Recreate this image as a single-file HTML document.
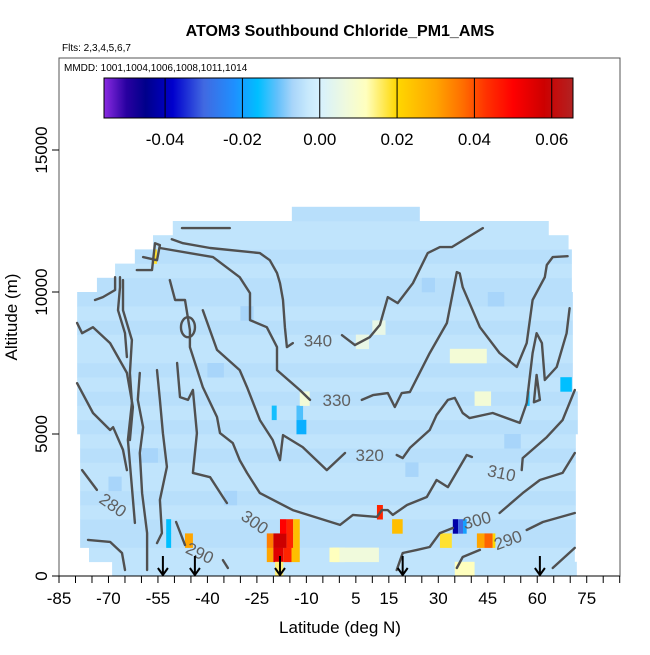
<!DOCTYPE html>
<html><head><meta charset="utf-8"><style>
html,body{margin:0;padding:0;background:#fff}
svg text{font-family:"Liberation Sans",sans-serif}
</style></head><body>
<svg id="chart" width="650" height="650" viewBox="0 0 650 650" xmlns="http://www.w3.org/2000/svg">
<defs>
<linearGradient id="cbgrad" x1="0" x2="1" y1="0" y2="0"></linearGradient>
<clipPath id="plotclip"><rect x="59" y="58" width="561" height="518"/></clipPath>
</defs>
<text x="340" y="36" text-anchor="middle" font-size="16" font-weight="bold">ATOM3 Southbound Chloride_PM1_AMS</text>
<text x="62" y="51" font-size="10">Flts: 2,3,4,5,6,7</text>
<g id="heat" clip-path="url(#plotclip)"></g>
<g id="contours" clip-path="url(#plotclip)"></g>
<g id="clabels"></g>
<g id="arrows"></g>
<rect x="59" y="58" width="561" height="518" fill="none" stroke="#555" stroke-width="1"/>
<text x="64" y="71" font-size="10">MMDD: 1001,1004,1006,1008,1011,1014</text>
<g id="colorbar"></g>
<g id="xaxis"></g>
<g id="yaxis"></g>
<text x="340" y="633" text-anchor="middle" font-size="17">Latitude (deg N)</text>
<text transform="translate(17,317) rotate(-90)" text-anchor="middle" font-size="17">Altitude (m)</text>
</svg>
<script>
// ---- data ----
const xTicks = [-85,-80,-75,-70,-65,-60,-55,-50,-45,-40,-35,-30,-25,-20,-15,-10,-5,0,5,10,15,20,25,30,35,40,45,50,55,60,65,70,75,80,85];
const xTickLabels = [-85,-70,-55,-40,-25,-10,5,15,30,45,60,75];
const yTickLabels = [0,5000,10000,15000];
const cbTicks = [-0.04,-0.02,0.00,0.02,0.04,0.06];
const rowAlt = 500;
const rowLeft  = [-68.9,-75.9,-78.6,-78.6,-78.6,-78.6,-78.6,-78.6,-78.6,-78.6,-79.5,-79.5,-79.5,-79.5,-79.5,-79.5,-79.5,-79.5,-79.5,-79.5,-73.5,-68.0,-62.0,-56.5,-50.5,-14.4];
const rowRight = [72.0,71.4,71.7,71.7,71.7,71.7,71.7,71.7,71.7,71.7,72.3,72.3,72.3,70.8,70.8,70.8,70.8,70.8,70.8,70.8,70.5,70.5,70.5,69.5,63.5,24.4];
const rowBase  = [-0.004,-0.004,-0.005,-0.005,-0.004,-0.005,-0.004,-0.004,-0.005,-0.004,-0.005,-0.004,-0.005,-0.004,-0.005,-0.004,-0.004,-0.005,-0.004,-0.005,-0.005,-0.004,-0.005,-0.004,-0.004,-0.005];
// anomalies: [latStart, latEnd, row, value]
const anomalyLat0 = [-22,-20,-17,-14.5,-22,-20,-16,-14,-18,-16,-14,-19.5,-46.8,-52.5,-52.5,34.4,36,37.5,41.7,44,46.5,30.5,16,11.4,35,-2,0,-3,-13,-13,-20.5,67,56.8,-56.5,33.5,41,-12,-60,-40,5,20,50,-70,-30,10,45,-35,25];
const anomalyLat1 = [-20,-17,-14.5,-12,-20,-16,-14,-12,-16,-14,-12,-17,-44.4,-51,-51,36,37.5,38.6,44,46.5,47.3,34.1,19.2,13.2,41,1.7,12,0,-10,-11,-19,70.5,57.7,-55.3,44.7,46,-9,-55,-35,9,24,55,-66,-26,14,50,-31,29];
const anomalyRow  = [1,1,1,1,2,2,2,2,3,3,3,0,2,2,3,3,3,3,2,2,2,2,3,4,0,1,1,1,10,11,11,13,12,22,15,12,12,8,14,16,7,9,6,18,17,19,5,20];
const anomalyVal  = [0.03,0.055,0.045,0.025,0.035,0.058,0.045,0.025,0.05,0.045,0.025,0.015,0.03,-0.016,-0.016,-0.042,-0.03,-0.02,0.03,0.038,0.02,0.018,0.025,0.045,0.012,0.012,0.007,0.012,-0.018,-0.012,-0.015,-0.016,-0.015,0.018,0.008,0.008,0.008,-0.007,-0.007,0.005,-0.007,-0.007,-0.007,-0.007,0.005,-0.007,-0.007,-0.007];
// theta contours [lat, alt]
const contour340a = [[-47.7,12250],[-33.2,12250]];
const contour340 = [[-50.8,11860],[-47.4,11720],[-39.2,11550],[-24.1,11370],[-21.1,11120],[-18.9,10670],[-18.0,10310],[-17.1,9720],[-16.5,8760],[-15.9,8060],[-14.1,8200]];
const contour340b = [[0.8,8480],[4.7,8130],[9.2,8410],[12.3,8840],[14.7,9820],[17.7,9610],[22.3,10310],[26.8,11370],[30.5,11580],[34.1,11580],[43.5,12250]];
const contour330 = [[-54.4,11550],[-38.3,11230],[-30.2,10520],[-27.1,9960],[-27.1,9010],[-22.0,8760],[-18.9,8060],[-18.9,7250],[-12.0,6550],[-8.9,6200]];
const contour330b = [[6.8,6200],[10.2,6370],[14.7,6440],[16.8,5950],[18.9,6440],[21.4,6480],[27.4,7850],[32.6,8910],[35.6,10700],[36.5,10660],[37.4,10170],[42.6,8760],[48.6,7850],[53.8,7360],[56.8,8200],[58.6,9720],[62.3,10520],[62.9,10950],[64.7,11230],[69.2,11260]];
const contour320 = [[-41.4,9360],[-37.1,7960],[-30.2,7250],[-28.0,6650],[-24.1,5490],[-20.2,4790],[-18.0,4080],[-17.1,4960],[-11.1,4540],[-3.8,3730],[1.7,4330]];
const contour320b = [[17.4,4260],[19.2,4150],[21.4,4510],[27.4,5140],[29.5,5670],[32.9,6200],[35.0,6270],[37.4,5740],[39.5,5560],[46.5,5740],[54.7,5390],[56.8,6090],[58.6,7850],[59.8,8550],[61.4,8200],[62.3,6900],[65.9,7360],[68.9,8550],[69.8,9430]];
const contourDrop = [[59.8,7080],[60.8,6200],[59.0,6120],[59.8,7080]];
const contour310 = [[-51.4,10420],[-49.8,9720],[-46.8,9720],[-45.3,8660],[-45.3,8060],[-41.4,6650],[-37.1,5600],[-36.2,5030],[-32.3,4680],[-30.2,4080],[-28.0,3630],[-24.1,2920],[-14.1,2320],[0.2,1800],[4.1,2150],[11.4,2080],[12.9,2320],[14.7,2320],[16.2,2150],[20.5,2500],[26.5,2780],[29.5,3380],[32.9,3130],[38.6,4260],[40.2,4190]];
const contour310b = [[55.3,3730],[55.6,4150],[62.9,4890],[67.7,5490],[71.4,6550]];
const contour300a = [[-79.5,6790],[-74.7,5740],[-69.5,5140],[-68.6,5240],[-65.6,4440],[-64.4,3730]];
const contour300 = [[-49.2,7500],[-48.3,6300],[-45.9,6200],[-44.4,6550],[-43.2,5030],[-44.4,3630],[-39.2,3480],[-35.3,2780],[-34.1,2570]];
const contour300b = [[17.4,210],[19.2,810],[23.5,920],[27.4,1020],[30.5,1510],[34.4,1690]];
const contour300c = [[48.6,2220],[55.6,2920],[60.8,3380],[67.7,3630],[71.4,4330]];
const contour290a = [[35.6,280],[37.4,670],[42.6,920]];
const contour290b = [[56.8,1620],[61.7,1900],[71.4,2220]];
const contour290c = [[64.7,280],[71.4,990]];
const contour290d = [[-76.2,1270],[-69.5,1200],[-65.9,810],[-65.0,210]];
const contour290e = [[-35.3,560],[-33.8,280]];
const contour290f = [[-49.5,1900],[-46.8,1090]];
const contour280 = [[-78.0,3730],[-73.5,3030]];
const squig1 = [[-66.5,10520],[-66.5,10170],[-67.1,9360],[-65.0,8550],[-64.4,7710]];
const squig2 = [[-65.6,10420],[-65.6,9360],[-62.9,8310],[-63.5,7150],[-62.9,6090],[-64.1,4790],[-62.9,3130],[-62.0,1870]];
const squig3 = [[-60.5,7150],[-61.1,6200],[-59.5,5240],[-60.5,4330],[-59.8,2920],[-58.3,1510],[-58.3,210]];
const squig5 = [[-55.3,7250],[-54.4,6200],[-53.5,5030],[-52.3,3840],[-54.4,2680],[-53.8,1510],[-55.3,1160]];
const squigSide = [[-79.5,8910],[-78.0,8550],[-74.7,8760],[-69.5,8200],[-64.4,7150],[-62.6,5950],[-63.5,4790]];
const squigTop = [[-74.1,9720],[-71.7,9820],[-68.0,10070],[-68.0,10520]];
const squig9 = [[-59.5,11230],[-55.3,11120],[-54.4,11650],[-55.9,11720],[-56.8,10770],[-61.4,10770]];
const contourLines = [contour340a,contour340,contour340b,contour330,contour330b,contour320,contour320b,contourDrop,contour310,contour310b,contour300a,contour300,contour300b,contour300c,contour290a,contour290b,contour290c,contour290d,contour290e,contour290f,contour280,squig1,squig2,squig3,squig5,squigSide,squigTop,squig9];
const labelText = ["340","330","320","310","300","300","290","290","280"];
const labelLat  = [-6.5,-0.8,9.2,49.2,-25.6,41.7,-42.3,51.1,-68.6];
const labelAlt  = [8300,6200,4260,3630,1900,1970,810,1270,2500];
const labelRot  = [0,0,0,12,35,-15,25,-20,35];
const arrowLat = [-53.5,-43.8,-18.0,19.2,60.8];

// ---- scales ----
const X0=59, X1=619.7, LAT0=-85, LAT1=85;
const Y0=576, PXM=0.0284;
const xs = v => X0 + (v-LAT0)/(LAT1-LAT0)*(X1-X0);
const ys = a => Y0 - a*PXM;
const cbX0=104, cbX1=573, cbV0=-0.0558, cbV1=0.0655;
const cbx = v => cbX0 + (v-cbV0)/(cbV1-cbV0)*(cbX1-cbX0);

const stops = [[-0.0558,[138,43,226]],[-0.05,[40,0,160]],[-0.045,[0,0,139]],[-0.038,[0,0,205]],[-0.03,[65,105,225]],[-0.022,[30,144,255]],[-0.016,[0,191,255]],[-0.011,[98,192,251]],[-0.007,[168,213,250]],[-0.003,[200,233,252]],[0,[214,241,255]],[0.007,[240,250,220]],[0.012,[255,255,190]],[0.02,[255,215,0]],[0.03,[255,165,0]],[0.037,[255,110,0]],[0.043,[255,50,0]],[0.05,[255,0,0]],[0.058,[205,0,0]],[0.0655,[178,34,34]]];
function col(v){
  if(v<=stops[0][0]) return 'rgb('+stops[0][1]+')';
  for(let i=1;i<stops.length;i++){
    if(v<=stops[i][0]){
      const a=stops[i-1],b=stops[i],t=(v-a[0])/(b[0]-a[0]);
      const c=a[1].map((x,k)=>Math.round(x+(b[1][k]-x)*t));
      return 'rgb('+c.join(',')+')';
    }
  }
  return 'rgb('+stops[stops.length-1][1]+')';
}
const NS='http://www.w3.org/2000/svg';
function mk(tag,attrs,parent){const e=document.createElementNS(NS,tag);for(const k in attrs)e.setAttribute(k,attrs[k]);parent.appendChild(e);return e;}

// heatmap rows
const heat=document.getElementById('heat');
rowBase.forEach((v,r)=>{
  const x0=xs(rowLeft[r]), x1=xs(rowRight[r]);
  const e=mk('rect',{x:x0,y:ys((r+1)*rowAlt),width:x1-x0,height:rowAlt*PXM+0.3,fill:col(v)},heat);
  
  
});
anomalyVal.forEach((v,i)=>{
  const r=anomalyRow[i];
  const x0=xs(anomalyLat0[i]), x1=xs(anomalyLat1[i]);
  const e=mk('rect',{x:x0,y:ys((r+1)*rowAlt),width:x1-x0,height:rowAlt*PXM+0.3,fill:col(v)},heat);
  
  
});

// contours
const cg=document.getElementById('contours');
contourLines.forEach(line=>{
  const d=line.map((p,i)=>(i?'L':'M')+xs(p[0]).toFixed(1)+' '+ys(p[1]).toFixed(1)).join(' ');
  const e=mk('path',{d:d,fill:'none',stroke:'#505050','stroke-width':2.4,'stroke-linejoin':'round','stroke-linecap':'round'},cg);
  
  
});
const loop=mk('ellipse',{cx:xs(-45.9),cy:ys(8760),rx:7,ry:10,fill:'none',stroke:'#505050','stroke-width':2.4},cg);


const lg=document.getElementById('clabels');
labelText.forEach((t,i)=>{
  const x=xs(labelLat[i]), y=ys(labelAlt[i]);
  const e=mk('text',{x:x,y:y+6,'text-anchor':'middle','font-size':17,fill:'#606060',transform:'rotate('+labelRot[i]+' '+x+' '+y+')'},lg);
  e.textContent=t;
  
  
});

// arrows
const ag=document.getElementById('arrows');
arrowLat.forEach(l=>{
  const x=xs(l);
  const e=mk('path',{d:'M'+x+' 556 L'+x+' 575 M'+(x-5)+' 568 L'+x+' 575 L'+(x+5)+' 568',stroke:'#000','stroke-width':2,fill:'none'},ag);
  
  
});

// colorbar
const grad=document.getElementById('cbgrad');
stops.forEach(s=>{mk('stop',{offset:((s[0]-cbV0)/(cbV1-cbV0)),'stop-color':col(s[0])},grad);});
const cb=document.getElementById('colorbar');
const cbr=mk('rect',{x:cbX0,y:78,width:cbX1-cbX0,height:40,fill:'url(#cbgrad)',stroke:'#000','stroke-width':1},cb);


cbTicks.forEach(v=>{
  const x=cbx(v);
  const l=mk('line',{x1:x,x2:x,y1:78,y2:118,stroke:'#000','stroke-width':1},cb);
  
  
  const t=mk('text',{x:x,y:145,'text-anchor':'middle','font-size':17},cb);
  t.textContent=v.toFixed(2);
  
  
});

// x axis
const xa=document.getElementById('xaxis');
mk('line',{x1:xs(-85),x2:xs(85),y1:576,y2:576,stroke:'#000','stroke-width':1},xa);
xTicks.forEach(v=>{
  const l=mk('line',{x1:xs(v),x2:xs(v),y1:576,y2:583,stroke:'#000','stroke-width':1},xa);
  
  
});
xTickLabels.forEach(v=>{
  const t=mk('text',{x:xs(v),y:604,'text-anchor':'middle','font-size':17},xa);
  t.textContent=String(v);
  
  
});
// y axis
const ya=document.getElementById('yaxis');
yTickLabels.forEach(v=>{
  const y=ys(v);
  const l=mk('line',{x1:52,x2:59,y1:y,y2:y,stroke:'#000','stroke-width':1},ya);
  
  
  const t=mk('text',{transform:'translate(47,'+y+') rotate(-90)','text-anchor':'middle','font-size':17},ya);
  t.textContent=String(v);
  
  
});
</script>
</body></html>
